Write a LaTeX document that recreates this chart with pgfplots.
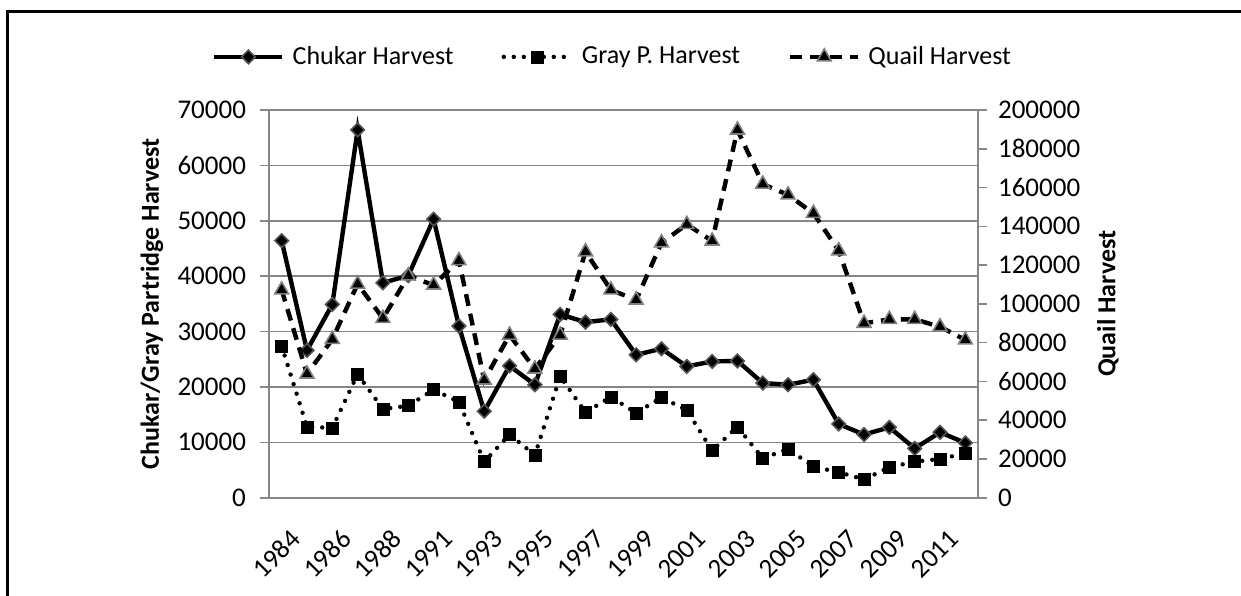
\documentclass[border=0pt]{standalone}
\usepackage{pgfplots}
\pgfplotsset{compat=1.18}
\usepackage{fontspec}
\setmainfont{Carlito}
\definecolor{axgray}{HTML}{868686}
\definecolor{dmgray}{HTML}{555555}
\definecolor{trgray}{HTML}{808080}
\pgfplotsset{
  chukar/.style={black, line width=2.2pt, mark=square*, mark size=2.4pt,
    mark options={solid, rotate=45, fill=black, draw=dmgray, line width=0.8pt}},
  grayp/.style={black, line width=2.2pt, line cap=round, dash pattern=on 0pt off 5pt,
    mark=square*, mark size=3pt, mark options={solid, fill=black, draw=black, line width=0.3pt}},
  quail/.style={black, line width=2.2pt, dash pattern=on 6pt off 4pt,
    mark=triangle*, mark size=4pt, mark options={solid, fill=black, draw=trgray, line width=0.8pt}},
  common/.style={
    at={(134.5pt,48.65pt)}, anchor=south west,
    scale only axis, width=354.5pt, height=193.85pt,
    xmin=-0.5, xmax=27.5,
    font=\fontsize{13}{15}\selectfont,
    tick label style={font=\fontsize{13.5}{15}\selectfont},
    /pgf/number format/assume math mode=true,
    /pgf/number format/.cd, fixed, 1000 sep={}, /pgfplots/.cd,
    scaled y ticks=false,
    tick align=outside, major tick length=4.5pt,
    every tick/.style={axgray, line width=0.8pt},
    axis line style={axgray, line width=0.8pt},
    clip=false,
  },
}
\begin{document}
\begin{tikzpicture}
\useasboundingbox (0,0) rectangle (620.5pt,297.5pt);
\draw[black, line width=1.5pt] (3.5pt,-2pt) -- (3.5pt,291.5pt) -- (623pt,291.5pt);
\begin{axis}[common,
  ymin=0, ymax=70000, ytick={0,10000,...,70000},
  axis x line*=bottom, axis y line*=left,
  ymajorgrids, grid style={axgray, line width=0.8pt},
  xtick={0,2,...,26},
  xticklabels={1984,1986,1988,1991,1993,1995,1997,1999,2001,2003,2005,2007,2009,2011},
  xtick style={draw=none},
  xticklabel style={xshift=9.5pt, yshift=-11.5pt, rotate=45, anchor=east},
  yticklabel style={xshift=-3.5pt},
  ylabel={\bfseries Chukar/Gray Partridge Harvest},
  every axis y label/.style={at={(axis description cs:-0.165,0.5)}, anchor=center, rotate=90},
  legend columns=3,
  legend style={draw=none, fill=none, at={(axis description cs:0.486,1.137)}, anchor=center,
    font=\fontsize{13}{15}\selectfont,
    /tikz/every odd column/.append style={column sep=2pt},
    /tikz/every even column/.append style={column sep=22pt}},
  legend image code/.code={\draw[mark repeat=2,mark phase=2] plot coordinates {(0pt,0pt)(17pt,0pt)(34pt,0pt)};},
]
\addplot[chukar] coordinates {
(0,46400) (1,26600) (2,34900) (3,66400) (4,38800) (5,40100) (6,50300) (7,31000)
(8,15600) (9,23800) (10,20400) (11,33100) (12,31700) (13,32200) (14,25800) (15,26900)
(16,23700) (17,24600) (18,24700) (19,20700) (20,20400) (21,21300) (22,13300) (23,11400)
(24,12700) (25,8900) (26,11800) (27,9900)};
\addlegendentry{Chukar Harvest}
\addplot[grayp] coordinates {
(0,27400) (1,12800) (2,12600) (3,22300) (4,16000) (5,16600) (6,19500) (7,17300)
(8,6500) (9,11400) (10,7700) (11,21900) (12,15400) (13,18200) (14,15300) (15,18100)
(16,15800) (17,8500) (18,12800) (19,7100) (20,8800) (21,5600) (22,4600) (23,3300)
(24,5500) (25,6500) (26,7000) (27,8000)};
\addlegendentry{Gray P. Harvest}
\addlegendimage{quail}
\addlegendentry{Quail Harvest}
\end{axis}
\begin{axis}[common,
  ymin=0, ymax=200000, ytick={0,20000,...,200000},
  axis y line*=right, axis x line=none,
  yticklabel style={xshift=2pt},
  ylabel={\bfseries Quail Harvest},
  every axis y label/.style={at={(axis description cs:1.183,0.5)}, anchor=center, rotate=90},
]
\addplot[quail] coordinates {
(0,107200) (1,63800) (2,81700) (3,110200) (4,92500) (5,114400) (6,109700) (7,122300)
(8,60700) (9,83900) (10,66400) (11,83900) (12,126900) (13,107200) (14,102000) (15,131500)
(16,141000) (17,132400) (18,189700) (19,161800) (20,156200) (21,146700) (22,127400) (23,90000)
(24,92000) (25,92000) (26,88200) (27,81400)};
\end{axis}
\end{tikzpicture}
\end{document}
